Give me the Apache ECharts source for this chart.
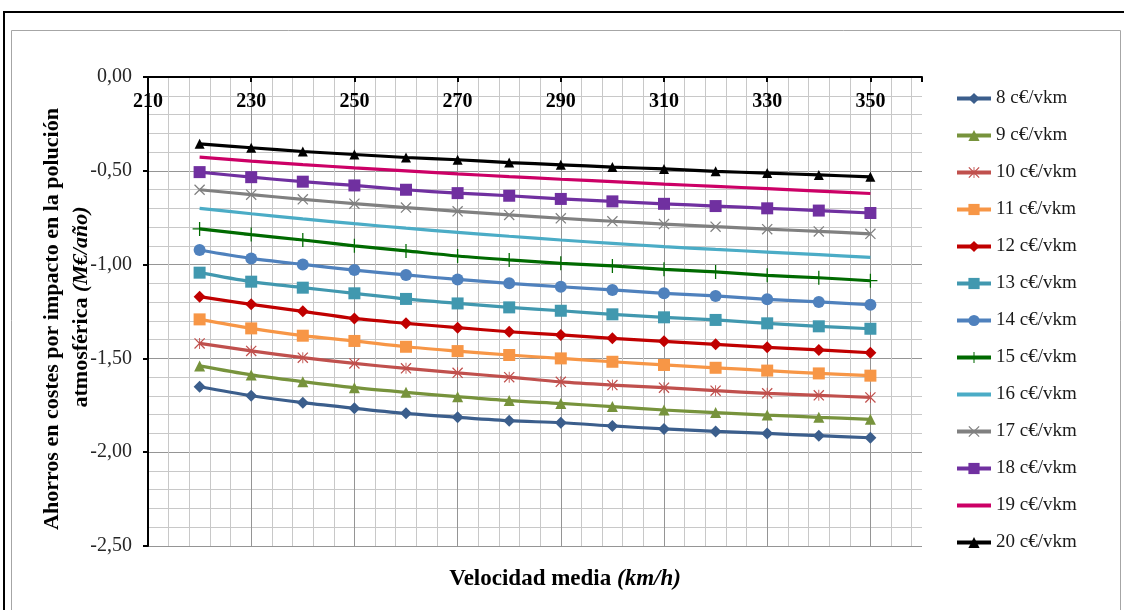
<!DOCTYPE html>
<html>
<head>
<meta charset="utf-8">
<script src="https://cdn.jsdelivr.net/npm/echarts@6/dist/echarts.min.js"></script>
<style>
  html, body { margin: 0; padding: 0; background: #fff; }
  #chart { width: 1124px; height: 610px; }
</style>
</head>
<body>
<div id="chart"></div>
<script>
// Average speed (km/h) at which each scenario is evaluated
const speeds = [220, 230, 240, 250, 260, 270, 280, 290, 300, 310, 320, 330, 340, 350];

// Tariff scenarios (c€ per vehicle-km)
const tariffs = ['8 c€/vkm', '9 c€/vkm', '10 c€/vkm', '11 c€/vkm', '12 c€/vkm', '13 c€/vkm',
  '14 c€/vkm', '15 c€/vkm', '16 c€/vkm', '17 c€/vkm', '18 c€/vkm', '19 c€/vkm', '20 c€/vkm'];

// Savings in air-pollution costs (M€/año) per tariff
const t8  = [-1.651, -1.699, -1.736, -1.766, -1.793, -1.814, -1.832, -1.843, -1.860, -1.876, -1.889, -1.900, -1.912, -1.923];
const t9  = [-1.540, -1.588, -1.624, -1.656, -1.681, -1.704, -1.725, -1.740, -1.757, -1.775, -1.789, -1.802, -1.814, -1.825];
const t10 = [-1.420, -1.460, -1.496, -1.527, -1.553, -1.577, -1.600, -1.625, -1.642, -1.656, -1.672, -1.686, -1.697, -1.708];
const t11 = [-1.292, -1.340, -1.379, -1.407, -1.438, -1.461, -1.482, -1.500, -1.518, -1.535, -1.550, -1.565, -1.580, -1.592];
const t12 = [-1.171, -1.212, -1.249, -1.287, -1.313, -1.336, -1.358, -1.375, -1.393, -1.409, -1.425, -1.441, -1.455, -1.470];
const t13 = [-1.043, -1.091, -1.123, -1.153, -1.183, -1.207, -1.228, -1.246, -1.265, -1.281, -1.295, -1.313, -1.329, -1.342];
const t14 = [-0.922, -0.967, -0.999, -1.029, -1.055, -1.079, -1.100, -1.118, -1.135, -1.153, -1.167, -1.185, -1.199, -1.214];
const t15 = [-0.810, -0.840, -0.869, -0.900, -0.927, -0.954, -0.975, -0.993, -1.007, -1.025, -1.039, -1.057, -1.070, -1.086];
const t16 = [-0.700, -0.729, -0.756, -0.782, -0.806, -0.828, -0.849, -0.869, -0.887, -0.904, -0.919, -0.933, -0.947, -0.961];
const t17 = [-0.601, -0.627, -0.652, -0.675, -0.696, -0.716, -0.735, -0.753, -0.769, -0.784, -0.798, -0.811, -0.823, -0.836];
const t18 = [-0.507, -0.534, -0.558, -0.578, -0.601, -0.619, -0.633, -0.650, -0.663, -0.676, -0.688, -0.700, -0.712, -0.725];
const t19 = [-0.427, -0.448, -0.467, -0.484, -0.500, -0.516, -0.531, -0.545, -0.558, -0.571, -0.583, -0.595, -0.608, -0.621];
const t20 = [-0.356, -0.377, -0.397, -0.413, -0.429, -0.441, -0.456, -0.468, -0.480, -0.490, -0.503, -0.512, -0.522, -0.532];

// Thin-stroke marker shapes
const CROSS_X = 'path://M0,0.8 L0.8,0 L10,9.2 L9.2,10 Z M9.2,0 L10,0.8 L0.8,10 L0,9.2 Z';
const STAR = 'path://M0,0.8 L0.8,0 L10,9.2 L9.2,10 Z M9.2,0 L10,0.8 L0.8,10 L0,9.2 Z M4.6,0 L5.4,0 L5.4,10 L4.6,10 Z';
const PLUS = 'path://M4.55,0 L5.45,0 L5.45,10 L4.55,10 Z M0,4.55 L10,4.55 L10,5.45 L0,5.45 Z';
// Plain line swatch for the marker-less series in the legend
const LINE_ONLY = 'path://M0,0 L34,0 L34,4 L0,4 Z';

const styles = [
  { values: t8,  color: '#3B5E8C', symbol: 'diamond',  size: 12 },
  { values: t9,  color: '#77933C', symbol: 'triangle', size: 11 },
  { values: t10, color: '#C0504D', symbol: STAR,       size: 11 },
  { values: t11, color: '#F79646', symbol: 'rect',     size: 12 },
  { values: t12, color: '#C00000', symbol: 'diamond',  size: 12 },
  { values: t13, color: '#4198AF', symbol: 'rect',     size: 12 },
  { values: t14, color: '#4F81BD', symbol: 'circle',   size: 12 },
  { values: t15, color: '#006A00', symbol: PLUS,       size: 14 },
  { values: t16, color: '#4BACC6', symbol: 'none',     size: 0 },
  { values: t17, color: '#808080', symbol: CROSS_X,    size: 11 },
  { values: t18, color: '#7030A0', symbol: 'rect',     size: 12 },
  { values: t19, color: '#CC0066', symbol: 'none',     size: 0 },
  { values: t20, color: '#000000', symbol: 'triangle', size: 10 }
];

const series = styles.map((s, i) => ({
  name: tariffs[i],
  type: 'line',
  xAxisIndex: 1,
  yAxisIndex: 0,
  smooth: 0.3,
  symbol: s.symbol,
  symbolSize: s.size,
  showSymbol: s.symbol !== 'none',
  lineStyle: { color: s.color, width: 3.2 },
  itemStyle: { color: s.color },
  emphasis: { disabled: true },
  data: speeds.map((v, k) => [v, s.values[k]])
}));

const legendData = styles.map((s, i) => (
  s.symbol === 'none' ? { name: tariffs[i], icon: LINE_ONLY } : { name: tariffs[i] }
));

const SERIF = '"Liberation Serif", "Times New Roman", serif';

const chart = echarts.init(document.getElementById('chart'), null, { renderer: 'canvas' });
chart.setOption({
  animation: false,
  backgroundColor: '#ffffff',
  grid: { left: 148, top: 77, width: 774, height: 469, containLabel: false },
  legend: {
    orient: 'vertical',
    left: 950,
    top: 84,
    itemWidth: 34,
    itemHeight: 14,
    itemGap: 18,
    symbolKeepAspect: true,
    data: legendData,
    lineStyle: { width: 4 },
    textStyle: { fontFamily: SERIF, fontSize: 19, lineHeight: 14, color: '#1a1a1a' }
  },
  xAxis: [
    {
      // fine grid every 4 km/h
      type: 'value', min: 210, max: 360, interval: 4, position: 'bottom',
      axisLine: { show: false, onZero: false },
      axisTick: { show: false },
      axisLabel: { show: false },
      splitLine: { show: true, showMinLine: false, showMaxLine: false,
        lineStyle: { color: '#C8C8C8', width: 1 } }
    },
    {
      type: 'value', min: 210, max: 360, interval: 20, position: 'top',
      axisLine: { show: true, onZero: false, lineStyle: { color: '#000', width: 2 } },
      axisTick: { show: true, inside: true, length: 5, lineStyle: { color: '#000', width: 2 } },
      axisLabel: {
        inside: true, margin: 15,
        fontFamily: SERIF, fontSize: 20, fontWeight: 'bold', color: '#000',
        formatter: v => (v === 360 ? '' : String(v))
      },
      splitLine: { show: true, showMinLine: false, showMaxLine: false,
        lineStyle: { color: '#959595', width: 1 } }
    }
  ],
  yAxis: {
    type: 'value', min: -2.5, max: 0, interval: 0.5,
    axisLine: { show: true, onZero: false, lineStyle: { color: '#000', width: 2 } },
    axisTick: { show: true, length: 5, lineStyle: { color: '#000', width: 2 } },
    axisLabel: {
      margin: 16, fontFamily: SERIF, fontSize: 20, color: '#262626',
      formatter: v => v.toFixed(2).replace('.', ',')
    },
    splitLine: { show: true, lineStyle: { color: '#959595', width: 1 } },
    minorTick: { show: false, splitNumber: 5 },
    minorSplitLine: { show: true, lineStyle: { color: '#C8C8C8', width: 1 } }
  },
  graphic: [
    { type: 'rect', silent: true, z: -10,
      shape: { x: 4, y: 12, width: 1140, height: 640 },
      style: { fill: 'none', stroke: '#000', lineWidth: 2 } },
    { type: 'rect', silent: true, z: -10,
      shape: { x: 11.5, y: 30.5, width: 1109, height: 640 },
      style: { fill: 'none', stroke: '#A6A6A6', lineWidth: 1 } },
    { type: 'text', silent: true, x: 52, y: 319, rotation: Math.PI / 2,
      style: { text: 'Ahorros en costes por impacto en la polución', fontFamily: SERIF,
        fontSize: 22, fontWeight: 'bold', fill: '#000', align: 'center', verticalAlign: 'middle' } },
    { type: 'text', silent: true, x: 81, y: 307, rotation: Math.PI / 2,
      style: { text: '{a|atmosférica }{b|(M€/año)}', align: 'center', verticalAlign: 'middle',
        rich: {
          a: { fontFamily: SERIF, fontSize: 22, fontWeight: 'bold', fill: '#000' },
          b: { fontFamily: SERIF, fontSize: 22, fontWeight: 'bold', fontStyle: 'italic', fill: '#000' }
        } } },
    { type: 'text', silent: true, x: 565, y: 579,
      style: { text: '{a|Velocidad media }{b|(km/h)}', align: 'center', verticalAlign: 'middle',
        rich: {
          a: { fontFamily: SERIF, fontSize: 23, fontWeight: 'bold', fill: '#000' },
          b: { fontFamily: SERIF, fontSize: 23, fontWeight: 'bold', fontStyle: 'italic', fill: '#000' }
        } } }
  ],
  series: series
});
</script>
</body>
</html>
